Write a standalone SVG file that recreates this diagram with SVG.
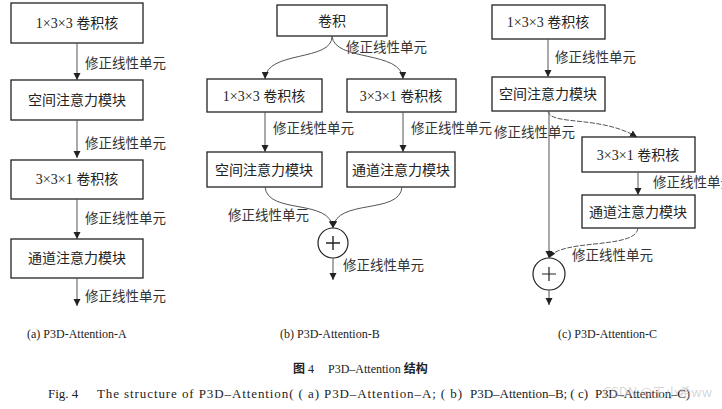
<svg xmlns="http://www.w3.org/2000/svg" width="722" height="409" viewBox="0 0 722 409">
<style>
.box{fill:#fff;stroke:#222;stroke-width:1.3}
.nt{font-family:"Liberation Serif","Noto Sans CJK SC",serif;font-size:14px;fill:#222;text-anchor:middle;dominant-baseline:central}
.lb{font-family:"Liberation Serif","Noto Sans CJK SC",serif;font-size:13.5px;fill:#333}
.cap{font-family:"Liberation Serif","Noto Sans CJK SC",serif;font-size:12px;fill:#222}
.fig{font-family:"Liberation Serif",serif;font-size:13px;fill:#222}
.ln{fill:none;stroke:#555;stroke-width:1}
.dl{fill:none;stroke:#555;stroke-width:1;stroke-dasharray:5 1.5}
.circ{fill:#fff;stroke:#222;stroke-width:1.2}
</style>
<defs>
<marker id="ah" markerUnits="userSpaceOnUse" markerWidth="8" markerHeight="8" refX="7" refY="3.5" orient="auto">
<path d="M0,0 L7,3.5 L0,7 z" fill="#222"/>
</marker>
</defs>
<rect width="722" height="409" fill="#fff"/>

<!-- Panel A -->
<g id="a1"><rect class="box" x="11" y="3" width="132" height="40"/><text class="nt" x="77" y="23">1×3×3 卷积核</text></g>
<g id="a2"><rect class="box" x="11" y="80" width="132" height="40"/><text class="nt" x="77" y="100">空间注意力模块</text></g>
<g id="a3"><rect class="box" x="11" y="160" width="132" height="39"/><text class="nt" x="77" y="179.5">3×3×1 卷积核</text></g>
<g id="a4"><rect class="box" x="11" y="239" width="132" height="39"/><text class="nt" x="77" y="258.5">通道注意力模块</text></g>

<!-- Panel B -->
<g id="b0"><rect class="box" x="277" y="5" width="110" height="31"/><text class="nt" x="332" y="21">卷积</text></g>
<g id="b1"><rect class="box" x="207" y="79" width="115" height="33"/><text class="nt" x="264" y="96">1×3×3 卷积核</text></g>
<g id="b2"><rect class="box" x="347" y="79" width="109" height="33"/><text class="nt" x="401" y="96">3×3×1 卷积核</text></g>
<g id="b3"><rect class="box" x="207" y="152" width="115" height="35"/><text class="nt" x="264" y="170">空间注意力模块</text></g>
<g id="b4"><rect class="box" x="347" y="152" width="108" height="35"/><text class="nt" x="401" y="170">通道注意力模块</text></g>
<g id="bsum"><circle class="circ" cx="333" cy="243" r="15"/><path d="M326,243 H340 M333,236 V250" stroke="#222" stroke-width="1.4"/></g>

<!-- Panel C -->
<g id="c1"><rect class="box" x="492" y="5" width="113" height="34"/><text class="nt" x="548" y="22">1×3×3 卷积核</text></g>
<g id="c2"><rect class="box" x="492" y="77" width="113" height="34"/><text class="nt" x="548" y="94">空间注意力模块</text></g>
<g id="c3"><rect class="box" x="582" y="137" width="113" height="35"/><text class="nt" x="638" y="155">3×3×1 卷积核</text></g>
<g id="c4"><rect class="box" x="582" y="195" width="113" height="33"/><text class="nt" x="638" y="212">通道注意力模块</text></g>
<g id="csum"><circle class="circ" cx="549" cy="274" r="16"/><path d="M542,274 H556 M549,267 V281" stroke="#222" stroke-width="1.2"/></g>

<!-- Connectors -->
<g id="connectors">
<path class="ln" d="M77,43 V80" marker-end="url(#ah)"/>
<path class="ln" d="M77,120 V158" marker-end="url(#ah)"/>
<path class="ln" d="M77,199 V239" marker-end="url(#ah)"/>
<path class="ln" d="M77,278 V306" marker-end="url(#ah)"/>

<path class="ln" d="M332,36 C333,62 266,50 265,79" marker-end="url(#ah)"/>
<path class="ln" d="M332,36 C334,62 402,50 403,79" marker-end="url(#ah)"/>
<path class="ln" d="M265,112 V152" marker-end="url(#ah)"/>
<path class="ln" d="M403,112 V152" marker-end="url(#ah)"/>
<path class="ln" d="M265,187 C268,215 330,198 333,228" marker-end="url(#ah)"/>
<path class="ln" d="M402,187 C400,215 336,198 333,228" marker-end="url(#ah)"/>
<path class="ln" d="M333,258 V280" marker-end="url(#ah)"/>

<path class="ln" d="M548,39 V77" marker-end="url(#ah)"/>
<path class="ln" d="M549,111 V258" marker-end="url(#ah)"/>
<path class="dl" d="M548,111 C550,126 600,115 637,137" marker-end="url(#ah)"/>
<path class="ln" d="M638,172 V195" marker-end="url(#ah)"/>
<path class="dl" d="M638,228 C636,250 560,238 549,258" marker-end="url(#ah)"/>
<path class="ln" d="M549,290 V305" marker-end="url(#ah)"/>
</g>

<!-- Labels -->
<g id="labels">
<text class="lb" x="85" y="68">修正线性单元</text>
<text class="lb" x="85" y="148">修正线性单元</text>
<text class="lb" x="85" y="223">修正线性单元</text>
<text class="lb" x="85" y="301">修正线性单元</text>

<text class="lb" x="346" y="52">修正线性单元</text>
<text class="lb" x="273" y="133">修正线性单元</text>
<text class="lb" x="411" y="133">修正线性单元</text>
<text class="lb" x="228" y="220">修正线性单元</text>
<text class="lb" x="343" y="270">修正线性单元</text>

<text class="lb" x="555" y="62">修正线性单元</text>
<text class="lb" x="494" y="137">修正线性单元</text>
<text class="lb" x="653" y="187">修正线性单元</text>
<text class="lb" x="572" y="260">修正线性单元</text>
</g>

<!-- Captions -->
<g id="captions">
<text class="cap" x="27" y="338">(a) P3D-Attention-A</text>
<text class="cap" x="280" y="338">(b) P3D-Attention-B</text>
<text class="cap" x="558" y="338">(c) P3D-Attention-C</text>
<text class="cap" x="293" y="373" font-size="13"><tspan font-weight="bold" font-family="Noto Sans CJK SC, sans-serif">图</tspan> 4<tspan dx="14">P3D–Attention </tspan><tspan font-weight="bold" font-family="Noto Sans CJK SC, sans-serif">结构</tspan></text>
<text class="fig" x="48" y="398">Fig. 4</text>
<text class="fig" x="97" y="398" textLength="365" lengthAdjust="spacing">The structure of P3D–Attention( ( a) P3D–Attention–A; ( b)</text>
<text class="fig" x="470" y="398" textLength="118" lengthAdjust="spacing">P3D–Attention–B; ( c)</text>
<text class="fig" x="595" y="398" textLength="95" lengthAdjust="spacing">P3D–Attention–C)</text>
<text x="603" y="397" font-family="Noto Sans CJK SC, sans-serif" font-size="13" fill="#bbb" fill-opacity="0.6">CSDN @王小希ww</text>
</g>
</svg>
